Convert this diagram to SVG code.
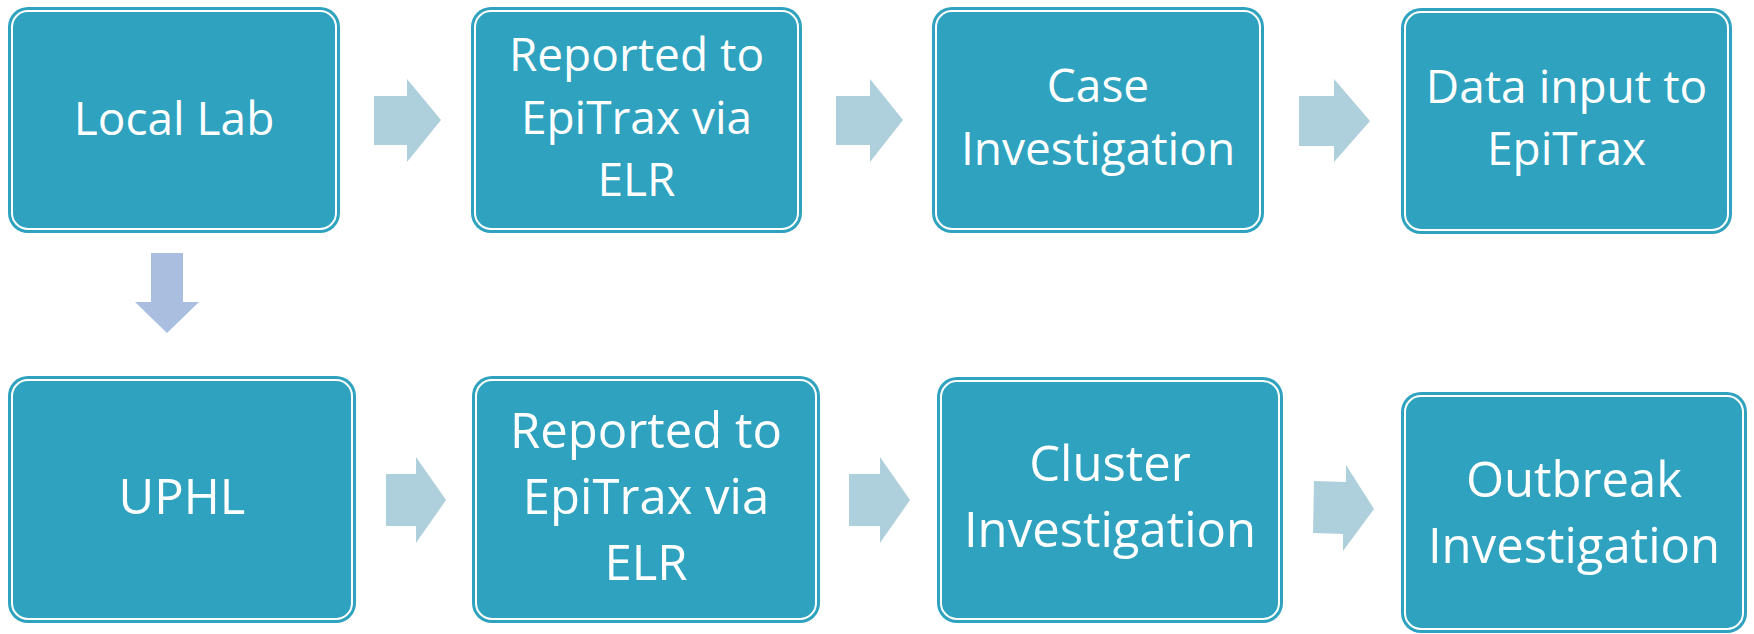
<svg xmlns="http://www.w3.org/2000/svg" width="1754" height="634" viewBox="0 0 1754 634">
<style>
.box{fill:#2EA2BF;}
.inner{fill:none;stroke:#ffffff;stroke-width:2;}
.t1{font-family:"Open Sans","Liberation Sans",sans-serif;font-size:46px;fill:#ffffff;text-anchor:middle;}
.t2{font-family:"Open Sans","Liberation Sans",sans-serif;font-size:49px;fill:#ffffff;text-anchor:middle;}
.arr{fill:#AECFDC;}
.darr{fill:#AABEDF;}
</style>
<rect width="1754" height="634" fill="#ffffff"/>
<g id="connectors">
<polygon class="arr" points="374,96 407,96 407,79 441,120 407,162 407,145 374,145"/>
<polygon class="arr" points="836,96 870,96 870,79 903,120 870,162 870,145 836,145"/>
<polygon class="arr" points="1299,96 1334,96 1334,79 1370,121 1334,162 1334,146 1299,146"/>
<polygon class="darr" points="151,253 183,253 183,302 199,302 167,333 135,302 151,302"/>
<polygon class="arr" points="386,474 416,474 416,457 446,500 416,543 416,526 386,526"/>
<polygon class="arr" points="849,474 880,474 880,457 910,500 880,543 880,526 849,526"/>
<polygon class="arr" points="1314,481 1346,482 1346,465 1374,509 1343,551 1343,534 1313,533"/>
</g>
<g id="n1">
<rect class="box" x="8" y="7" width="332" height="226" rx="20"/>
<rect class="inner" x="12" y="11" width="324" height="218" rx="16"/>
<text class="t1" x="174" y="135">Local Lab</text>
</g>
<g id="n2">
<rect class="box" x="471" y="7" width="331" height="226" rx="20"/>
<rect class="inner" x="475" y="11" width="323" height="218" rx="16"/>
<text class="t1" x="636.5" y="71">Reported to</text>
<text class="t1" x="636.5" y="134">EpiTrax via</text>
<text class="t1" x="636.5" y="196">ELR</text>
</g>
<g id="n3">
<rect class="box" x="932" y="7" width="332" height="226" rx="20"/>
<rect class="inner" x="936" y="11" width="324" height="218" rx="16"/>
<text class="t1" x="1098" y="102">Case</text>
<text class="t1" x="1098" y="165">Investigation</text>
</g>
<g id="n4">
<rect class="box" x="1401" y="8" width="331" height="226" rx="20"/>
<rect class="inner" x="1405" y="12" width="323" height="218" rx="16"/>
<text class="t1" x="1566.5" y="103">Data input to</text>
<text class="t1" x="1566.5" y="165">EpiTrax</text>
</g>
<g id="n5">
<rect class="box" x="8" y="376" width="348" height="247" rx="20"/>
<rect class="inner" x="12" y="380" width="340" height="239" rx="16"/>
<text class="t2" x="182" y="514">UPHL</text>
</g>
<g id="n6">
<rect class="box" x="472" y="376" width="348" height="247" rx="20"/>
<rect class="inner" x="476" y="380" width="340" height="239" rx="16"/>
<text class="t2" x="646" y="448">Reported to</text>
<text class="t2" x="646" y="514">EpiTrax via</text>
<text class="t2" x="646" y="580">ELR</text>
</g>
<g id="n7">
<rect class="box" x="937" y="377" width="346" height="246" rx="20"/>
<rect class="inner" x="941" y="381" width="338" height="238" rx="16"/>
<text class="t2" x="1110" y="481">Cluster</text>
<text class="t2" x="1110" y="547">Investigation</text>
</g>
<g id="n8">
<rect class="box" x="1401" y="392" width="346" height="241" rx="20"/>
<rect class="inner" x="1405" y="396" width="338" height="233" rx="16"/>
<text class="t2" x="1574" y="497">Outbreak</text>
<text class="t2" x="1574" y="563">Investigation</text>
</g>
</svg>
